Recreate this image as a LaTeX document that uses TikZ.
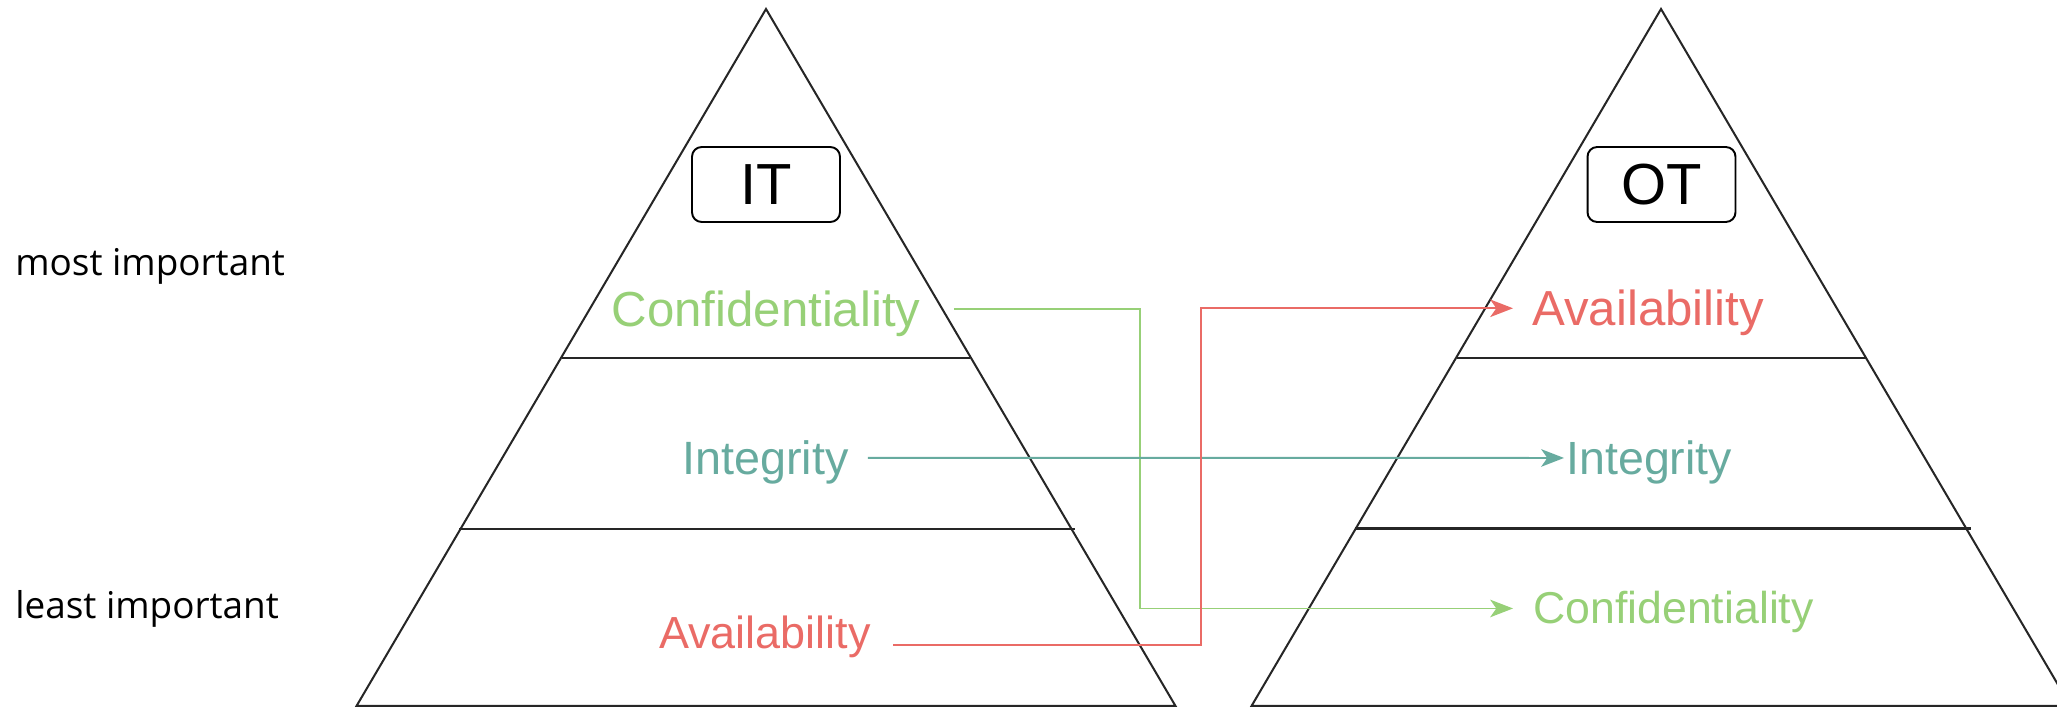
\documentclass[tikz,border=0pt]{standalone}
\usepackage{fontspec}
\setmainfont{Liberation Sans}
\newfontfamily\sidefont{Open Sans}
\usepackage{xcolor}
\usetikzlibrary{arrows.meta, calc}

\definecolor{confgreen}{HTML}{97D077}
\definecolor{intteal}{HTML}{67AB9F}
\definecolor{availred}{HTML}{EA6B66}

\begin{document}
\begin{tikzpicture}[
      x = 0.02cm, y = -0.02cm,
      tri/.style  = {draw = black!85, line width = 1.15pt},
      band/.style = {draw = black!85, line width = 1.5pt},
      tag/.style  = {draw = black, line width = 1.1pt, rounded corners = 5.5pt,
                     minimum width = 2.96cm, minimum height = 1.5cm, inner sep = 0pt,
                     font = \fontsize{33}{33}\selectfont},
      lbl/.style  = {inner sep = 0pt, font = \fontsize{#1}{#1}\selectfont},
      lbl/.default = 28,
      side/.style = {inner sep = 0pt, anchor = base west,
                     font = \sidefont\fontsize{21}{21}\selectfont},
      arr/.style  = {-{Stealth[length = 13pt, width = 10pt, inset = 3.5pt]}, line width = 1.1pt}
    ]
  \useasboundingbox (0,0) rectangle (2057,706);

  % ---------- priority scale ---------------------------------------------
  \node[side] (most)  at (15,275) {most important};
  \node[side] (least) at (15,618) {least important};

  % ---------- IT pyramid --------------------------------------------------
  \draw[tri] (766,9) -- (356.5,706) -- (1175.5,706) -- cycle;
  \draw[band] (562,358) -- (970,358);
  \draw[band] (459,529) -- (1075,529);
  \node[tag] (itBox) at (766,184.5) {IT};

  \node[lbl, anchor = base, text = confgreen]    (itC) at (766,326) {Confidentiality};
  \node[lbl = 26.6, anchor = base, text = intteal] (itI) at (765.5,474) {Integrity};
  \node[lbl = 25.6, anchor = base, text = availred] (itA) at (765,648) {Availability};

  % ---------- OT pyramid --------------------------------------------------
  \draw[tri] (1661,9) -- (1251.5,706) -- (2070.5,706) -- cycle;
  \draw[band] (1457,358) -- (1866,358);
  \draw[band] (1355,528.5) -- (1971,528.5);
  \node[tag] (otBox) at (1661.5,184.5) {OT};

  \node[lbl, anchor = base west, text = availred]         (otA) at (1532,325) {Availability};
  \node[lbl = 26.5, anchor = base west, text = intteal]   (otI) at (1566,474) {Integrity};
  \node[lbl = 25.4, anchor = base west, text = confgreen] (otC) at (1533,623) {Confidentiality};

  % ---------- re-ordering -------------------------------------------------
  \coordinate (cfTurn) at (1140,0);
  \coordinate (avTurn) at (1201,0);

  \draw[arr, confgreen] ($(itC.east)+(33,-4)$) -| ($(cfTurn |- otC.west)+(0,-3)$)
        -- ($(otC.west)+(-20,-3)$);
  \draw[arr, intteal] ($(itI.east)+(19,-4)$) -- ($(otI.west)+(-2,-4)$);
  \draw[arr, availred] ($(itA.base east)+(22,-3)$) -| ($(avTurn |- otA.west)+(0,-4)$)
        -- ($(otA.west)+(-19,-4)$);

\end{tikzpicture}
\end{document}
